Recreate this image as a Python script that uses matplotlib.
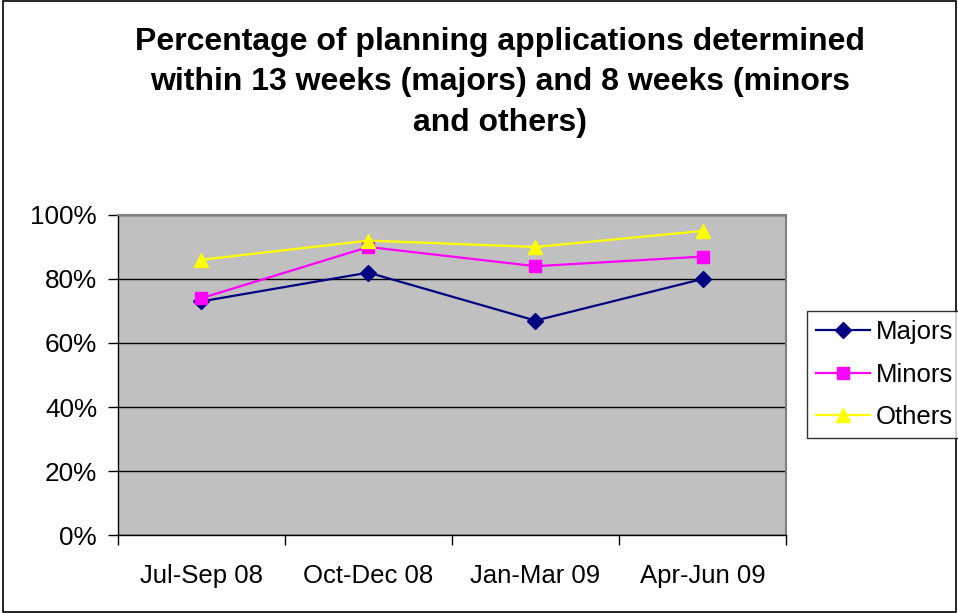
import matplotlib.pyplot as plt
from matplotlib.patches import Rectangle
from matplotlib.ticker import FixedLocator, NullFormatter, FixedFormatter

quarters = ['Jul-Sep 08', 'Oct-Dec 08', 'Jan-Mar 09', 'Apr-Jun 09']
majors = [73, 82, 67, 80]
minors = [74, 90, 84, 87]
others = [86, 92, 90, 95]

plt.rcParams['font.family'] = ['Liberation Sans', 'DejaVu Sans']

fig = plt.figure(figsize=(9.58, 6.13), dpi=100)
fig.patches.append(Rectangle((0.003, 0.002), 0.995, 0.996, transform=fig.transFigure,
                             fill=False, edgecolor='black', linewidth=1.2))

ax = fig.add_axes([0.123, 0.1272, 0.6975, 0.5221])
ax.set_facecolor('#c0c0c0')

x = range(len(quarters))
ax.plot(x, majors, color='#000080', marker='D', markersize=8, linewidth=1.6, label='Majors', zorder=3)
ax.plot(x, minors, color='#ff00ff', marker='s', markersize=8, linewidth=1.6, label='Minors', zorder=3)
ax.plot(x, others, color='#ffff00', marker='^', markersize=10, linewidth=1.6, label='Others', zorder=3)

ax.set_xlim(-0.5, 3.5)
ax.set_ylim(0, 100)
ax.set_yticks([0, 20, 40, 60, 80, 100])
ax.set_yticklabels(['0%', '20%', '40%', '60%', '80%', '100%'])
ax.yaxis.grid(True, color='black', linewidth=1)
ax.set_axisbelow(True)

# boundaries get tick marks, category centres get labels
ax.xaxis.set_major_locator(FixedLocator([-0.5, 0.5, 1.5, 2.5, 3.5]))
ax.xaxis.set_major_formatter(NullFormatter())
ax.xaxis.set_minor_locator(FixedLocator(list(x)))
ax.xaxis.set_minor_formatter(FixedFormatter(quarters))
ax.tick_params(axis='x', which='major', length=7, width=1, direction='out')
ax.tick_params(axis='x', which='minor', length=0, pad=21, labelsize=18.5)
ax.tick_params(axis='y', length=7, width=1, direction='out', pad=8, labelsize=18.8)

for side in ['top', 'right']:
    ax.spines[side].set_color('#808080')
    ax.spines[side].set_linewidth(1.5)
for side in ['left', 'bottom']:
    ax.spines[side].set_color('black')
    ax.spines[side].set_linewidth(1)

fig.text(0.522, 0.866, 'Percentage of planning applications determined\n'
         'within 13 weeks (majors) and 8 weeks (minors\nand others)',
         ha='center', va='center', fontsize=23, fontweight='bold', linespacing=1.46)

leg = fig.legend(loc='center', bbox_to_anchor=(0.9235, 0.389), fontsize=18.5, frameon=True,
                 fancybox=False, edgecolor='black', handlelength=2.1, handletextpad=0.2,
                 borderpad=0.35, labelspacing=0.72, borderaxespad=0)
leg.get_frame().set_linewidth(1)

fig.savefig('out.png', dpi=100)
